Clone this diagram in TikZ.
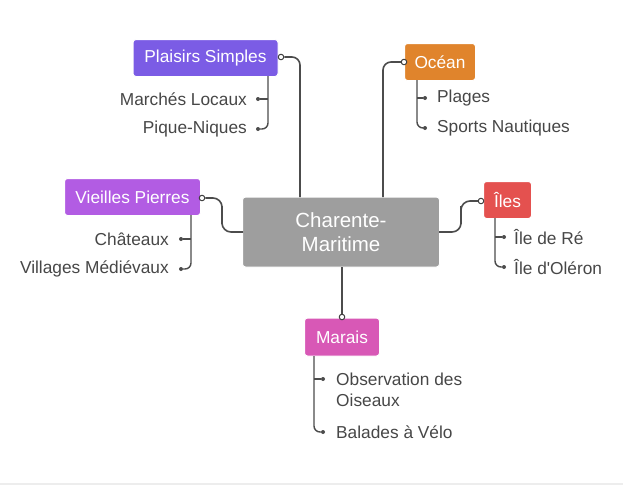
\documentclass[tikz,border=0pt]{standalone}
\usepackage{fontspec}
\setmainfont{Liberation Sans}[Ligatures=TeXOff]
\begin{document}
\begin{tikzpicture}[x=1pt,y=-1pt,
  conn/.style={draw=black!70, line width=1.6pt, rounded corners=8pt},
  sub/.style={draw=black!70, line width=1.4pt, rounded corners=6pt},
  box/.style={rounded corners=3pt, text=white, font=\fontsize{17.3}{19}\selectfont, inner sep=0pt, draw=white, line width=1pt},
  child/.style={text=black!72, font=\fontsize{17.3}{21}\selectfont, inner sep=0pt},
  ring/.style={circle, draw=black!75, fill=white, line width=1pt, inner sep=0pt, minimum size=5.5pt},
  dot/.style={circle, fill=black!70, inner sep=0pt, minimum size=4pt}]
\definecolor{cgray}{HTML}{9E9E9E}
\definecolor{cplai}{HTML}{7B5CE5}
\definecolor{cocea}{HTML}{E0842C}
\definecolor{cviei}{HTML}{B25CE3}
\definecolor{ciles}{HTML}{E4514F}
\definecolor{cmara}{HTML}{D858B6}
\useasboundingbox (0,0) rectangle (623,491);
\fill[white] (0,0) rectangle (623,491);
\draw[black!7, line width=2pt] (0,484) -- (623,484);

% main boxes
\node[box, fill=cgray, minimum width=197pt, minimum height=70pt, align=center, font=\fontsize{20.5}{23.5}\selectfont] (c) at (341,232) {Charente-\\Maritime};
\node[box, fill=cplai, minimum width=145pt, minimum height=37pt] (ps) at (205.5,58) {Plaisirs Simples};
\node[box, fill=cocea, minimum width=71pt, minimum height=37pt] (oc) at (440,62) {Océan};
\node[box, fill=cviei, minimum width=136pt, minimum height=37pt] (vp) at (132.5,197) {Vieilles Pierres};
\node[box, fill=ciles, minimum width=48pt, minimum height=37pt] (il) at (507.5,200) {Îles};
\node[box, fill=cmara, minimum width=75pt, minimum height=38pt] (ma) at (342,337) {Marais};

% ring ends
\node[ring] (rps) at (281,57) {};
\node[ring] (roc) at (404,62) {};
\node[ring] (rvp) at (202,198) {};
\node[ring] (ril) at (481,201) {};
\node[ring] (rma) at (342,317) {};

% central anchors
\coordinate (cps) at (300,197);
\coordinate (coc) at (383,197);
\coordinate (cvp) at (243,232);
\coordinate (cil) at (439,232);
\coordinate (cma) at (342,267);
\coordinate (mvp) at (222,215);
\coordinate (mil) at (461,215);

\draw[conn] (cps) |- (rps);
\draw[conn] (coc) |- (roc);
\draw[conn, rounded corners=9pt] (rvp) -| (mvp) |- (cvp);
\draw[conn, rounded corners=9pt] (cil) -| (mil) |- (ril);
\draw[conn] (cma) -- (rma);

% children: Plaisirs Simples
\coordinate (ps0) at (268,76);
\node[dot] (ps1) at (258,99) {};
\node[dot] (ps2) at (258,129) {};
\draw[sub] (ps0) |- (ps2);
\draw[sub] (ps1) -- (ps1 -| ps0);
\node[child, anchor=east] (tps1) at (247,99) {Marchés Locaux};
\node[child, anchor=east] (tps2) at (247,129) {Pique-Niques};

% children: Océan
\coordinate (oc0) at (417,80);
\node[dot] (oc1) at (425,98) {};
\node[dot] (oc2) at (425,128) {};
\draw[sub] (oc0) |- (oc2);
\draw[sub] (oc1) -- (oc1 -| oc0);
\node[child, anchor=west] (toc1) at (437,98) {Plages};
\node[child, anchor=west] (toc2) at (437,128) {Sports Nautiques};

% children: Vieilles Pierres
\coordinate (vp0) at (191,215);
\node[dot] (vp1) at (181,239) {};
\node[dot] (vp2) at (181,269) {};
\draw[sub] (vp0) |- (vp2);
\draw[sub] (vp1) -- (vp1 -| vp0);
\node[child, anchor=east] (tvp1) at (169,239) {Châteaux};
\node[child, anchor=east] (tvp2) at (169,269) {Villages Médiévaux};

% children: Îles
\coordinate (il0) at (495,218);
\node[dot] (il1) at (504,237) {};
\node[dot] (il2) at (504,267) {};
\draw[sub] (il0) |- (il2);
\draw[sub] (il1) -- (il1 -| il0);
\node[child, anchor=west] (til1) at (514,237) {Île de Ré};
\node[child, anchor=west] (til2) at (514,267) {Île d'Oléron};

% children: Marais
\coordinate (ma0) at (314,356);
\node[dot] (ma1) at (323,379) {};
\node[dot] (ma2) at (323,432) {};
\draw[sub] (ma0) |- (ma2);
\draw[sub] (ma1) -- (ma1 -| ma0);
\node[child, anchor=west, align=left] (tma1) at (336,389.5) {Observation des\\Oiseaux};
\node[child, anchor=west] (tma2) at (336,432) {Balades à Vélo};
\end{tikzpicture}
\end{document}
